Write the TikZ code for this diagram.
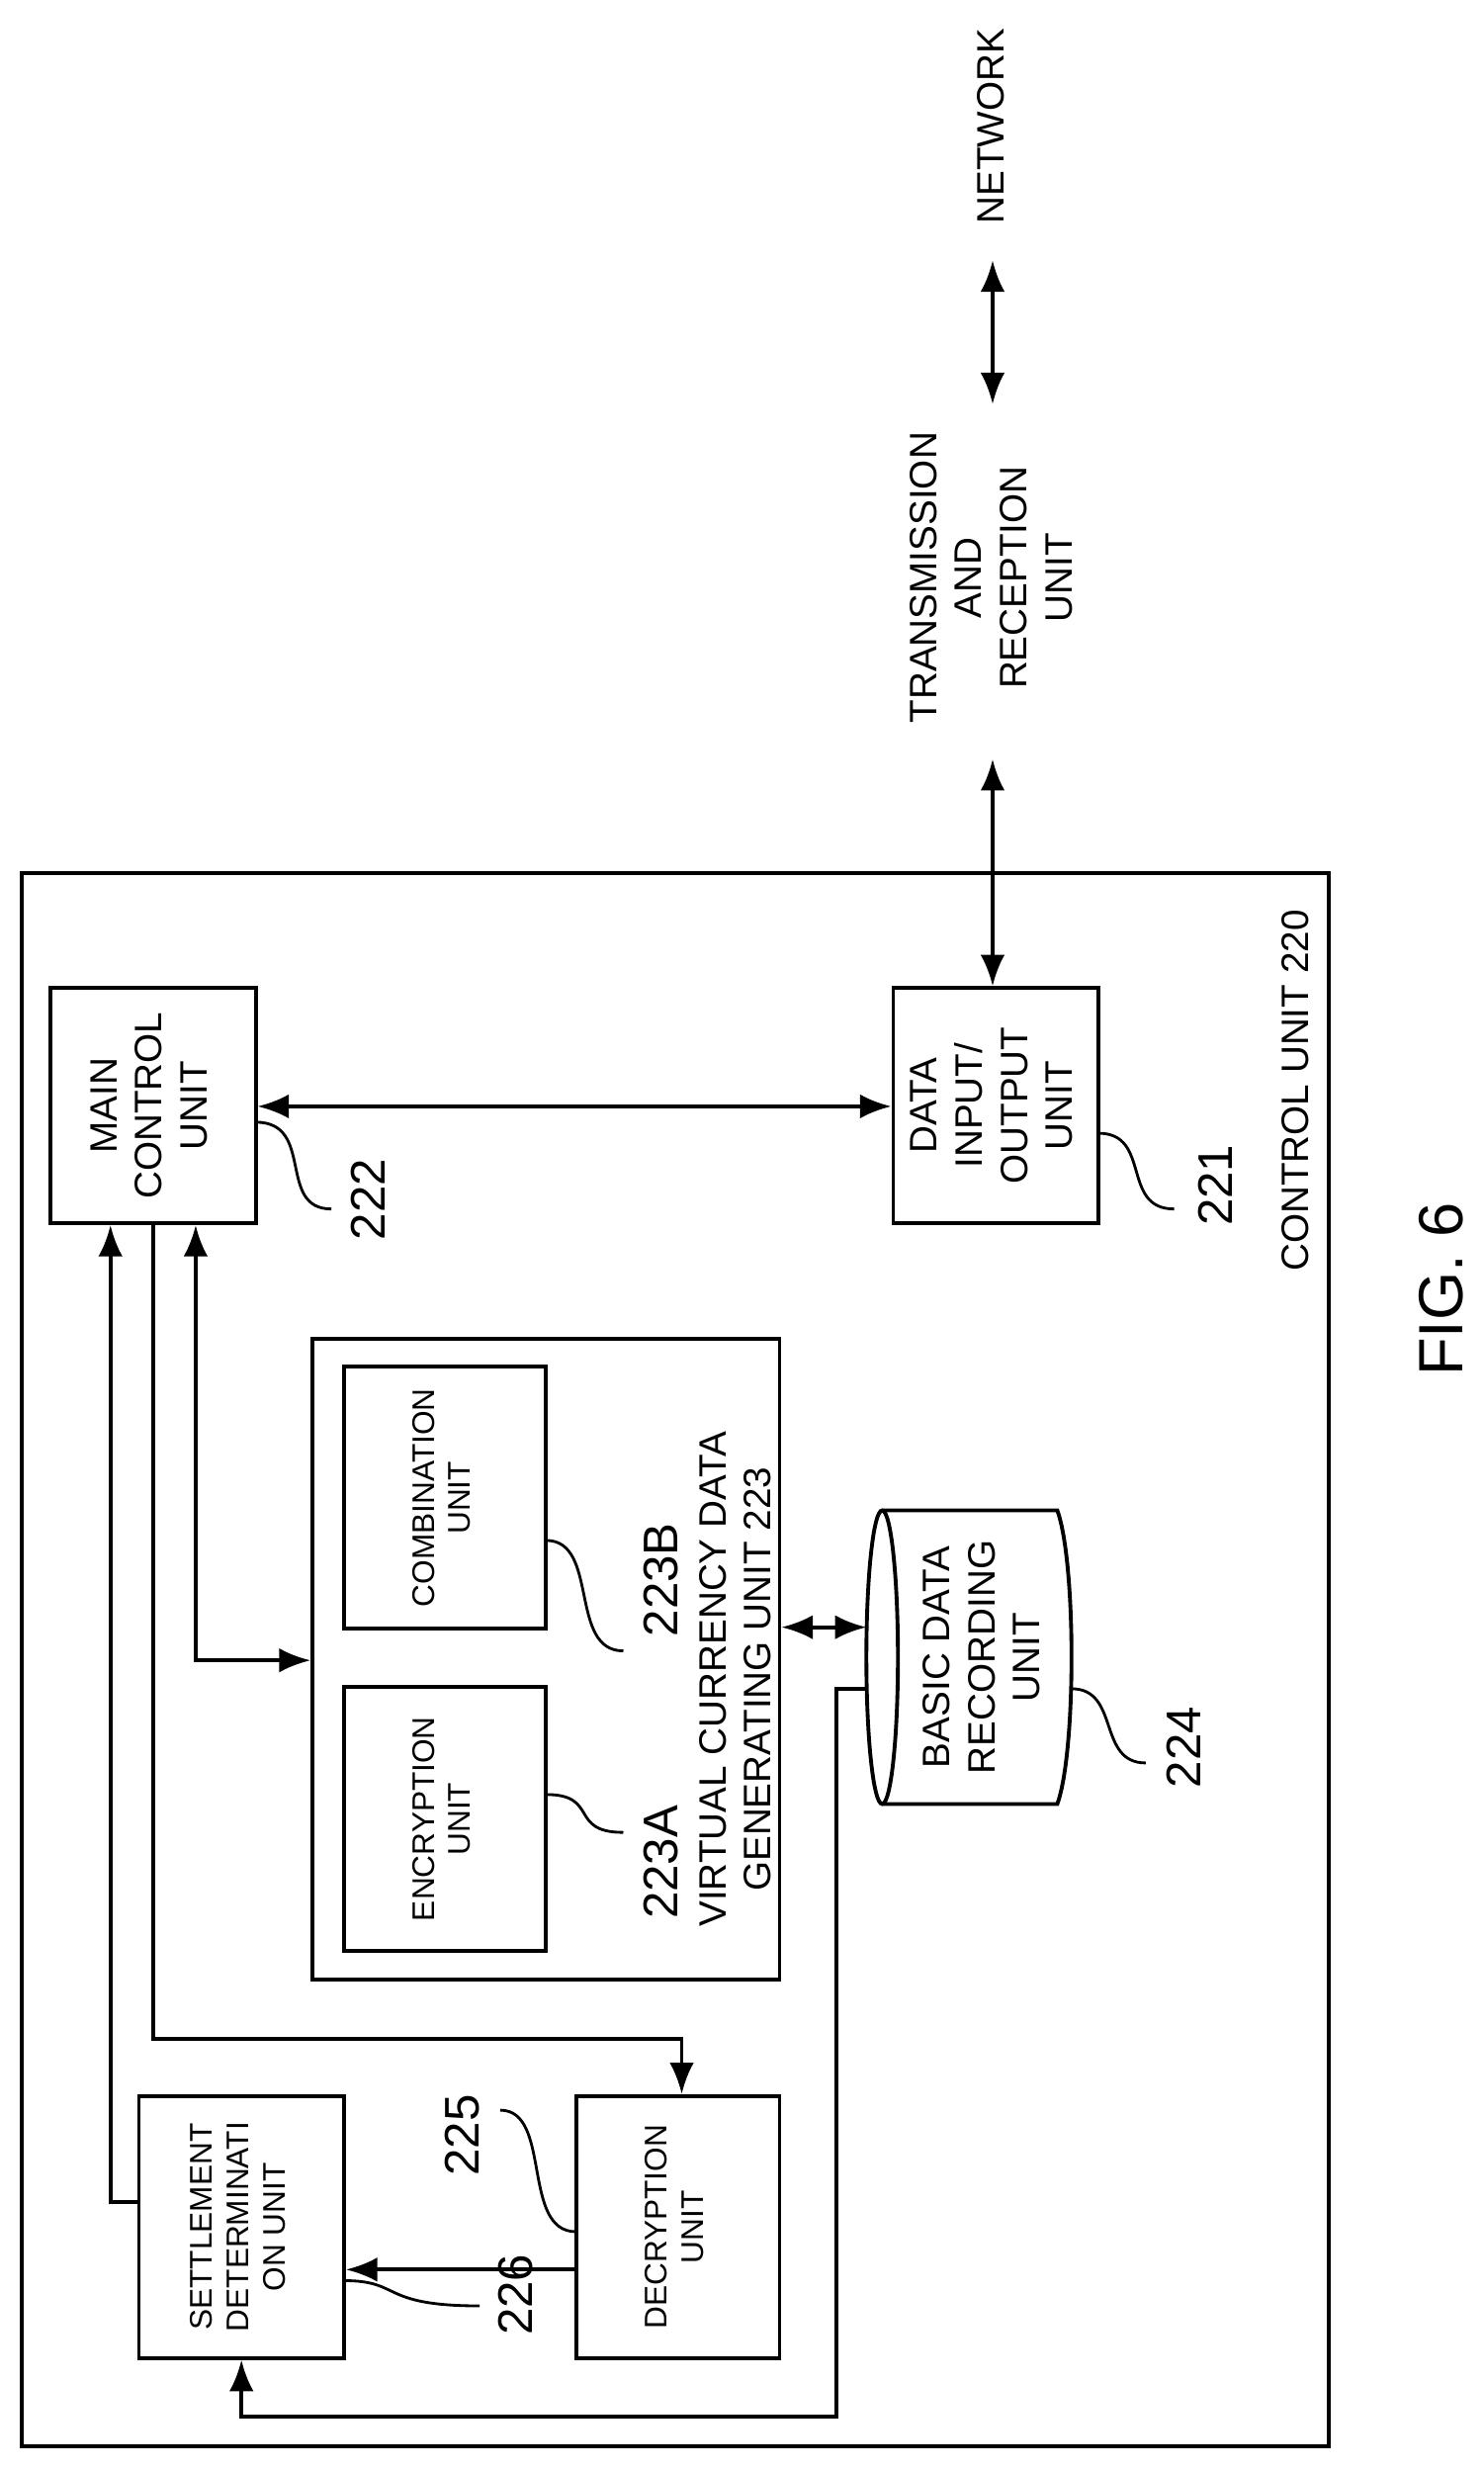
\documentclass[tikz,border=0pt]{standalone}
\usepackage{fontspec}
\setmainfont{Liberation Sans}
\usetikzlibrary{arrows.meta,positioning,calc}
\newdimen\px \px=0.01596cm
\tikzset{
  box/.style={draw,line width=1.1pt,inner sep=0pt,font=\fontsize{11}{13}\selectfont},
  sbox/.style={box,font=\fontsize{9}{10.5}\selectfont},
  num/.style={font=\fontsize{14}{16}\selectfont,rotate=90},
  lbl/.style={align=center,font=\fontsize{11}{13}\selectfont,rotate=90},
  lead/.style={line width=0.8pt},
  >={Latex[length=9pt,width=7pt]}
}
\newcommand{\rtext}[1]{\rotatebox{90}{\begin{tabular}{@{}c@{}}#1\end{tabular}}}
\begin{document}
\begin{tikzpicture}[x=\px,y=-\px,line width=1.1pt]
\useasboundingbox (0,0) rectangle (940,1565);
% outer frame
\draw (14,553) rectangle (842,1550);
\node[lbl] (ctl) at (821,691) {CONTROL UNIT 220};
% units
\node[box,minimum width=130\px,minimum height=149\px] (main) at (97,700.5) {\rtext{MAIN\\CONTROL\\UNIT}};
\node[box,minimum width=130\px,minimum height=149\px] (dio) at (631,700.5) {\rtext{DATA\\INPUT/\\OUTPUT\\UNIT}};
\node[box,minimum width=296\px,minimum height=406\px] (vcdg) at (346,1051) {};
\node[lbl] at (466,1064) {VIRTUAL CURRENCY DATA\\GENERATING UNIT 223};
\node[sbox,minimum width=128\px,minimum height=166\px] (comb) at (282,949) {\rtext{COMBINATION\\UNIT}};
\node[sbox,minimum width=128\px,minimum height=167\px] (enc) at (282,1152.5) {\rtext{ENCRYPTION\\UNIT}};
\node[sbox,minimum width=130\px,minimum height=166\px] (sett) at (153,1411) {\rtext{SETTLEMENT\\DETERMINATI\\ON UNIT}};
\node[sbox,minimum width=129\px,minimum height=166\px] (decr) at (429.5,1411) {\rtext{DECRYPTION\\UNIT}};
% basic data recording unit
\draw (559,1050) ellipse [x radius=10,y radius=93];
\draw (559,957) -- (670,957) .. controls (682,990) and (682,1110) .. (670,1143) -- (559,1143);
\coordinate (cylL) at (549,1031);
\coordinate (cylS) at (549,1070);
\node[lbl] (bdr) at (622,1050) {BASIC DATA\\RECORDING\\UNIT};
% outside
\node[lbl] (trx) at (628,366) {TRANSMISSION\\AND\\RECEPTION\\UNIT};
\node[lbl] (net) at (628,80) {NETWORK};
\coordinate (n1) at (629,165);
\coordinate (n2) at (629,256);
\coordinate (t1) at (629,481);
\draw[<->] (n1) -- (n2);
\draw[<->] (t1) -- (dio.north-|t1);
% connectors
\draw[<->] (main.east|-0,701) -- (dio.west|-0,701);
\draw[<->] (main.south-|124,0) -- (124,1052) -- (vcdg.west|-0,1052);
\draw[->] (main.south-|97,0) -- (97,1292) -- (432,1292) -- (decr.north-|432,0);
\draw[->] (sett.west|-0,1395) -- (70,1395) -- (main.south-|70,0);
\draw[->] (decr.west|-0,1438) -- (sett.east|-0,1438);
\draw[<->] (vcdg.east|-cylL) -- (cylL);
\draw[->] (cylS) -- (530,1070) -- (530,1531) -- (153,1531) -- (sett.south-|153,0);
% reference numbers
\draw[lead] (162,711) .. controls (200,711) and (175,766) .. (210,766);
\node[num] at (233,760) {222};
\draw[lead] (696,718) .. controls (730,718) and (710,766) .. (744,766);
\node[num] at (770,751) {221};
\draw[lead] (346,976) .. controls (380,976) and (360,1046) .. (395,1046);
\node[num] at (419,1001) {223B};
\draw[lead] (346,1137) .. controls (380,1137) and (360,1161) .. (395,1161);
\node[num] at (419,1180) {223A};
\draw[lead] (679,1070) .. controls (710,1070) and (695,1117) .. (726,1117);
\node[num] at (750,1107) {224};
\draw[lead] (365,1414) .. controls (330,1414) and (350,1337) .. (317,1337);
\node[num] at (293,1353) {225};
\draw[lead] (218,1445) .. controls (255,1445) and (240,1461) .. (304,1461);
\node[num] at (327,1454) {226};
\node[num,font=\fontsize{18}{20}\selectfont] (fig) at (913,817) {FIG. 6};
\end{tikzpicture}
\end{document}
